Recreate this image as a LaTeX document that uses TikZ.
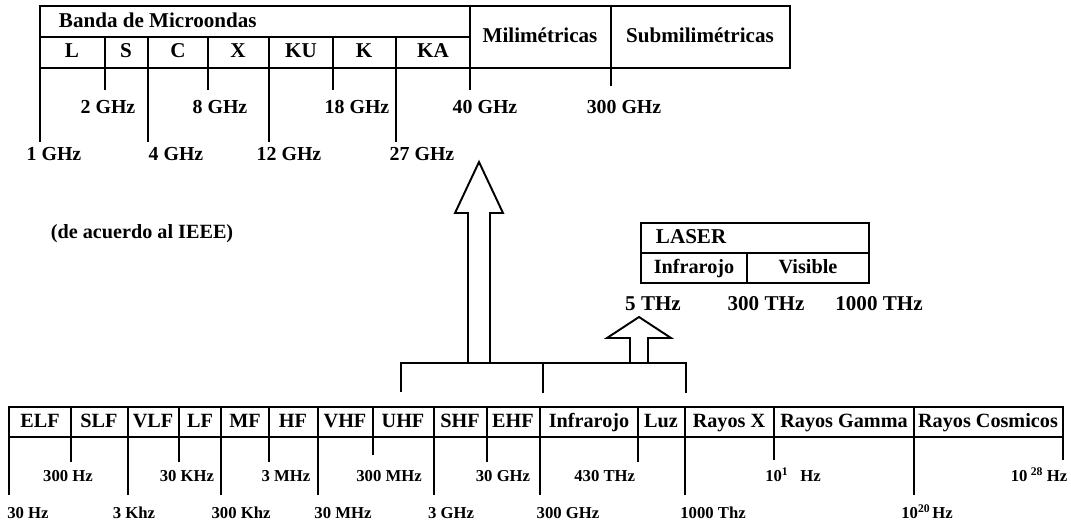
\documentclass[tikz,border=0pt]{standalone}
\usepackage{fontspec}
\setmainfont{Liberation Serif}

\begin{document}
\begin{tikzpicture}[x=0.02cm,y=-0.02cm,line width=1.1pt,
    cell/.style={font=\fontsize{12}{14}\selectfont\bfseries,inner sep=0pt,text height=0.68em,text depth=0pt},
    band/.style={font=\fontsize{11.5}{13}\selectfont\bfseries,inner sep=0pt,text height=0.68em,text depth=0pt},
    ghz/.style={font=\fontsize{11.3}{13}\selectfont\bfseries,inner sep=0pt,text height=0.68em,text depth=0pt},
    hz/.style={font=\fontsize{9.5}{11}\selectfont\bfseries,inner sep=0pt,text height=0.68em,text depth=0pt}]
  \useasboundingbox (0,0) rectangle (1071,524);

  % bandas de microondas
  \draw (40,6) rectangle (790,68);
  \draw (40,37) -- (470,37);
  \draw (470,6) -- (470,68);
  \draw (611,6) -- (611,68);
  \foreach \x in {105,148,208,269,333,396} \draw (\x,37) -- (\x,68);
  \node[cell,anchor=west] (banda) at (58,22) {Banda de Microondas};
  \node[cell] (bL) at (72,52) {L};
  \node[cell] (bS) at (126,52) {S};
  \node[cell] (bC) at (178,52) {C};
  \node[cell] (bX) at (238,52) {X};
  \node[cell] (bKU) at (301,52) {KU};
  \node[cell] (bK) at (364,52) {K};
  \node[cell] (bKA) at (433,52) {KA};
  \node[cell] (mili) at (540,37) {Milimétricas};
  \node[cell] (submili) at (700,37) {Submilimétricas};

  % marcas GHz
  \draw (40,68) -- (40,142);
  \draw (105,68) -- (105,90);
  \draw (148,68) -- (148,142);
  \draw (208,68) -- (208,90);
  \draw (269,68) -- (269,142);
  \draw (333,68) -- (333,90);
  \draw (396,68) -- (396,142);
  \draw (470,68) -- (470,90);
  \draw (611,68) -- (611,86);
  \node[ghz] (g2) at (108,108) {2 GHz};
  \node[ghz] (g8) at (220,108) {8 GHz};
  \node[ghz] (g18) at (357,108) {18 GHz};
  \node[ghz] (g40) at (485,108) {40 GHz};
  \node[ghz] (g300) at (624,108) {300 GHz};
  \node[ghz] (g1) at (54,155) {1 GHz};
  \node[ghz] (g4) at (176,155) {4 GHz};
  \node[ghz] (g12) at (289,155) {12 GHz};
  \node[ghz] (g27) at (422,155) {27 GHz};

  \node[band] (ieee) at (142,233) {(de acuerdo al IEEE)};

  % laser
  \draw (641,223) rectangle (869,283);
  \draw (641,253) -- (869,253);
  \draw (747,253) -- (747,283);
  \node[cell,anchor=west] (laser) at (655,238) {LASER};
  \node[band] (lir) at (694,268) {Infrarojo};
  \node[band] (lvis) at (808,268) {Visible};
  \node[cell] (t5) at (653,305) {5 THz};
  \node[cell] (t300) at (766,305) {300 THz};
  \node[cell] (t1000) at (879,305) {1000 THz};

  % flechas y corchete
  \draw (401,392) -- (401,363) -- (686,363) -- (686,393);
  \draw (543,363) -- (543,393);
  \draw[line join=miter] (468,363) -- (468,213) -- (455,213) -- (479,162)
    -- (503,213) -- (490,213) -- (490,363);
  \draw[line join=miter] (630,363) -- (630,338) -- (607,338) -- (639,317)
    -- (671,338) -- (648,338) -- (648,363);

  % espectro
  \draw (9,407) rectangle (1063,437);
  \foreach \x in {71,128,179,221,269,318,373,434,487,540,638,685,774,914}
    \draw (\x,407) -- (\x,437);
  \node[band] (elf) at (40,422) {ELF};
  \node[band] (slf) at (99,422) {SLF};
  \node[band] (vlf) at (153,422) {VLF};
  \node[band] (lf) at (200,422) {LF};
  \node[band] (mf) at (245,422) {MF};
  \node[band] (hf) at (293,422) {HF};
  \node[band] (vhf) at (345,422) {VHF};
  \node[band] (uhf) at (403,422) {UHF};
  \node[band] (shf) at (460,422) {SHF};
  \node[band] (ehf) at (513,422) {EHF};
  \node[band] (ir) at (589,422) {Infrarojo};
  \node[band] (luz) at (661,422) {Luz};
  \node[band] (rx) at (729,422) {Rayos X};
  \node[band] (rg) at (844,422) {Rayos Gamma};
  \node[band] (rc) at (988,422) {Rayos Cosmicos};

  % marcas Hz
  \draw (9,437) -- (9,495);
  \draw (71,437) -- (71,462);
  \draw (128,437) -- (128,495);
  \draw (179,437) -- (179,462);
  \draw (221,437) -- (221,495);
  \draw (269,437) -- (269,462);
  \draw (318,437) -- (318,495);
  \draw (373,437) -- (373,455);
  \draw (434,437) -- (434,495);
  \draw (487,437) -- (487,462);
  \draw (540,437) -- (540,495);
  \draw (638,437) -- (638,462);
  \draw (685,437) -- (685,495);
  \draw (774,437) -- (774,460);
  \draw (914,437) -- (914,495);
  \draw (1063,437) -- (1063,460);
  \node[hz] (h300) at (68,476) {300 Hz};
  \node[hz] (k30) at (187,476) {30 KHz};
  \node[hz] (m3) at (286,476) {3 MHz};
  \node[hz] (m300) at (389,476) {300 MHz};
  \node[hz] (gg30) at (503,476) {30 GHz};
  \node[hz,anchor=east] (t430) at (636,476) {430 THz};
  \node[hz] (e16) at (793,476) {10\textsuperscript{1}\hspace{0.7em}Hz};
  \node[hz] (e28) at (1039,476) {10\hspace{0.2em}\textsuperscript{28}\hspace{0.2em}Hz};
  \node[hz] (h30) at (28,513) {30 Hz};
  \node[hz] (k3) at (134,513) {3 Khz};
  \node[hz] (k300) at (241,513) {300 Khz};
  \node[hz] (m30) at (343,513) {30 MHz};
  \node[hz] (gg3) at (451,513) {3 GHz};
  \node[hz] (gg300) at (568,513) {300 GHz};
  \node[hz] (th1000) at (713,513) {1000 Thz};
  \node[hz] (e20) at (927,513) {10\textsuperscript{20}\hspace{0.1em}Hz};
\end{tikzpicture}
\end{document}
